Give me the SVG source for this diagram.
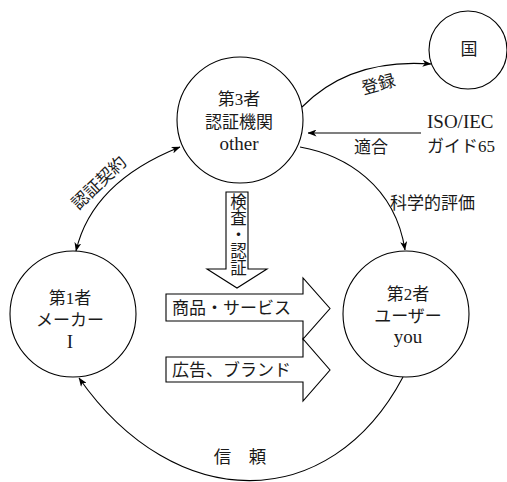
<svg xmlns="http://www.w3.org/2000/svg" width="507" height="482" viewBox="0 0 507 482">
<style>
.n{fill:#fff;stroke:#000;stroke-width:1.1}
.c{fill:none;stroke:#000;stroke-width:1.1}
text{font-family:"Liberation Serif","Noto Sans CJK JP",serif;font-size:17px;fill:#1a1a1a}
.m{text-anchor:middle}
.lat{font-size:19px}
.big{fill:#fff;stroke:#000;stroke-width:1.1}
.vt{writing-mode:vertical-rl;font-size:16.5px}
</style>
<defs>
<marker id="ah" viewBox="0 0 9 7" refX="8.5" refY="3.5" markerWidth="9" markerHeight="7" markerUnits="userSpaceOnUse" orient="auto-start-reverse">
<path d="M0,0 L9,3.5 L0,7 L2.5,3.5 Z" fill="#000"/>
</marker>
</defs>
<rect width="507" height="482" fill="#fff"/>

<g id="connectors">
<path class="c" d="M302,107 Q350,58 431,64" marker-end="url(#ah)"/>
<path class="c" d="M421,133 L308,133" marker-end="url(#ah)"/>
<path class="c" d="M300,147 C345,155 395,185 405,250" marker-end="url(#ah)"/>
<path class="c" d="M180,147 Q92,182 76,251" marker-start="url(#ah)" marker-end="url(#ah)"/>
<path class="c" d="M403,377 C330,515 175,515 79,378" marker-end="url(#ah)"/>
<text class="m" transform="translate(380,90) rotate(-15)">登録</text>
<text class="m" x="371" y="153">適合</text>
<text x="427" y="128" class="lat">ISO/IEC</text>
<text x="427" y="152">ガイド65</text>
<text x="390" y="209">科学的評価</text>
<text class="m" transform="translate(103,187) rotate(-44)">認証契約</text>
<text class="m" x="240" y="463" style="font-size:17.5px">信　頼</text>
</g>

<g id="node-third">
<circle class="n" cx="240" cy="120" r="63"/>
<text class="m" x="239" y="105">第3者</text>
<text class="m" x="239" y="128">認証機関</text>
<text class="m lat" x="239" y="150">other</text>
</g>

<g id="node-country">
<circle class="n" cx="468" cy="50" r="39"/>
<text class="m" x="469" y="55">国</text>
</g>

<g id="node-first">
<circle class="n" cx="73" cy="314" r="63"/>
<text class="m" x="70" y="304">第1者</text>
<text class="m" x="70" y="326">メーカー</text>
<text class="m lat" x="70" y="348">I</text>
</g>

<g id="node-second">
<circle class="n" cx="406" cy="314" r="63"/>
<text class="m" x="408" y="300">第2者</text>
<text class="m" x="408" y="322">ユーザー</text>
<text class="m lat" x="408" y="343">you</text>
</g>

<g id="arrow-inspect">
<path class="big" d="M226,192 L248,192 L248,269 L267,269 L237,288 L207,269 L226,269 Z"/>
<text class="vt" x="237" y="193">検査・認証</text>
</g>

<g id="arrow-brand">
<path class="big" d="M166,357 L303,357 L303,339 L330,370 L303,401 L303,382 L166,382 Z"/>
<text x="172" y="376">広告、ブランド</text>
</g>

<g id="arrow-goods">
<path class="big" d="M166,294 L303,294 L303,278 L330,308.5 L303,339 L303,321 L166,321 Z"/>
<text x="172" y="314">商品・サービス</text>
</g>
</svg>
